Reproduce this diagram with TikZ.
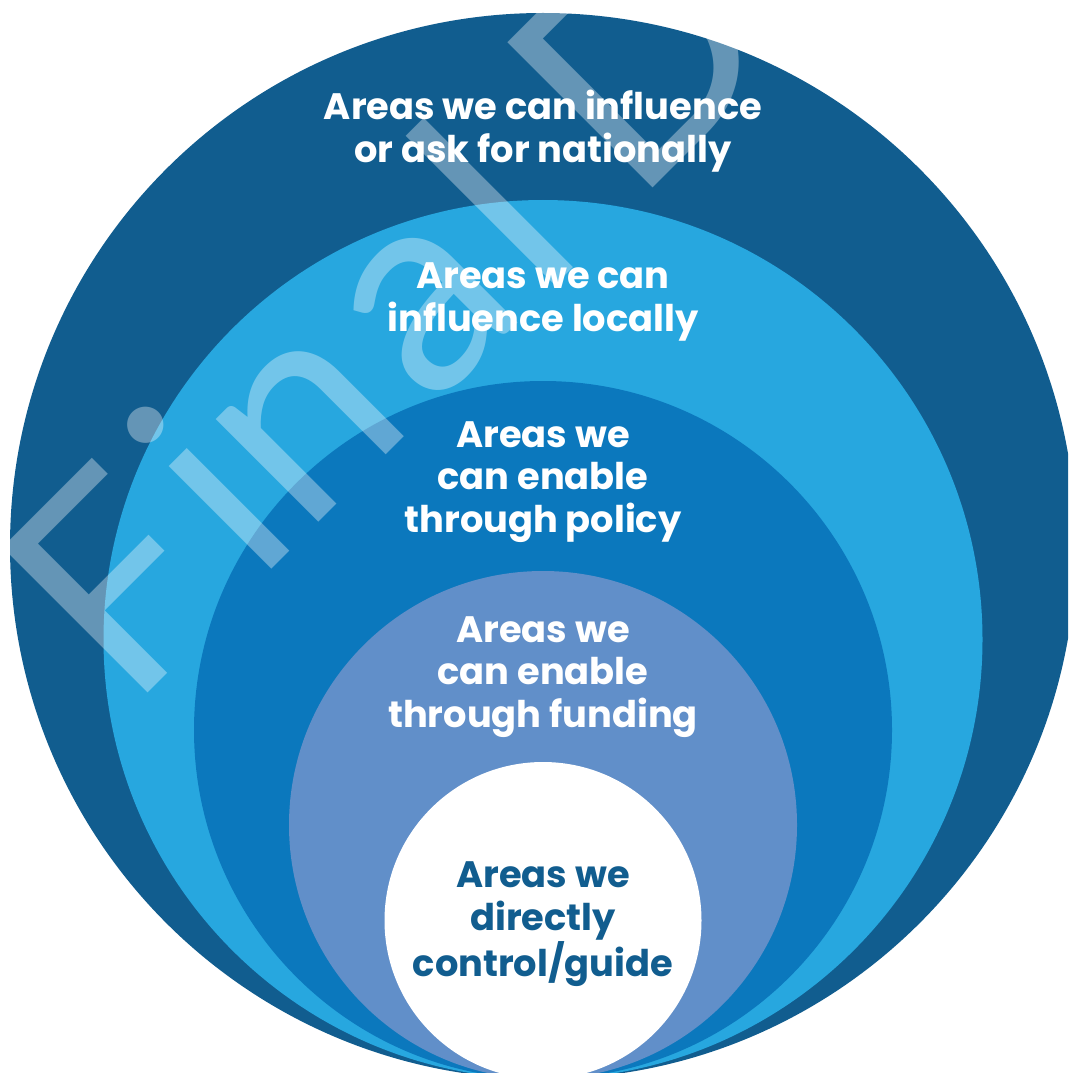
\documentclass[tikz,border=0pt]{standalone}
\usepackage{fontspec}
\setmainfont{Poppins}
\newfontfamily\wmfont{Lato}
\definecolor{ringA}{HTML}{115D8F}
\definecolor{ringB}{HTML}{27A7DF}
\definecolor{ringC}{HTML}{0B78BD}
\definecolor{ringD}{HTML}{618FC9}
\definecolor{inktext}{HTML}{115D8F}
\newcommand\wmletter[2]{\makebox[#1pt][c]{#2}}
\tikzset{
  ring/.style={draw=none},
  lbl/.style={align=center, text=white, font=\fontsize{27.6}{32}\selectfont\bfseries, inner sep=0pt},
  lbldark/.style={lbl, text=inktext},
  wm/.style={text=white, opacity=0.35, font=\wmfont\fontsize{215}{215}\selectfont, inner sep=0pt, rotate=45, anchor=base west}
}
\begin{document}
\begin{tikzpicture}[x=0.75pt, y=-0.75pt]
\useasboundingbox (0,0) rectangle (1068,1073);
\clip (0,0) rectangle (1068,1073);
\fill[white] (0,0) rectangle (1068,1073);
\fill[ring, ringA] (543,546) circle [radius={533*0.75pt}];
\fill[ring, ringB] (543,639.5) circle [radius={439.5*0.75pt}];
\fill[ring, ringC] (543,730) circle [radius={349*0.75pt}];
\fill[ring, ringD] (543,825) circle [radius={254*0.75pt}];
\fill[ring, white] (543,920.5) circle [radius={158.5*0.75pt}];
\node[wm] (mark) at (148,693) {\wmletter{105}{\hspace{-22.5pt}F}\wmletter{70.5}{i}\wmletter{100.5}{n}\wmletter{153}{a}\wmletter{24}{l} \wmletter{178}{D}};
\node[lbl] (t1) at (543,131) {Areas we can influence\\or ask for nationally};
\node[lbl] (t2) at (543,302) {Areas we can\\influence locally};
\node[lbl] (t3) at (543,482) {Areas we\\can enable\\through policy};
\node[lbl] (t4) at (543,677) {Areas we\\can enable\\through funding};
\node[lbldark] (t5) at (543,924) {Areas we\\directly\\control/guide};
\end{tikzpicture}
\end{document}
